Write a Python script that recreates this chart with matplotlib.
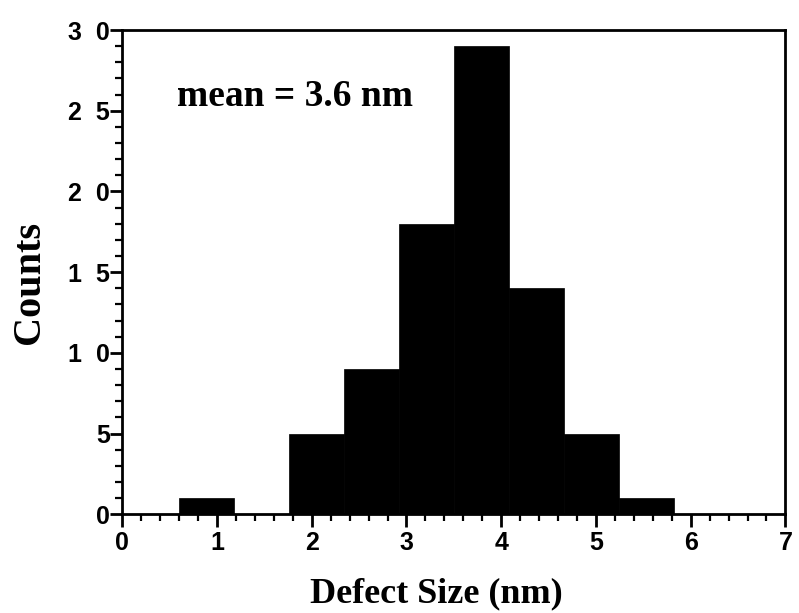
import numpy as np
import matplotlib
matplotlib.use('Agg')
import matplotlib.pyplot as plt
from matplotlib.ticker import MultipleLocator

# histogram data
bin_edges = [0.6, 1.18, 1.76, 2.34, 2.92, 3.5, 4.08, 4.66, 5.24, 5.82]
counts = [1, 0, 5, 9, 18, 29, 14, 5, 1]
yticks = [0, 5, 10, 15, 20, 25, 30]
ytick_labels = ['0', '5', '1  0', '1  5', '2  0', '2  5', '3  0']
xticks = [0, 1, 2, 3, 4, 5, 6, 7]

fig = plt.figure(figsize=(7.99, 6.13), dpi=100)
ax = fig.add_axes([0.153, 0.161, 0.830, 0.79])

edges = np.array(bin_edges)
ax.bar(edges[:-1], counts, width=np.diff(edges), align='edge',
       color='black', edgecolor='black', linewidth=0.5)

ax.set_xlim(0, 7)
ax.set_ylim(0, 30)
ax.set_xticks(xticks)
ax.set_xticklabels([str(t) for t in xticks], fontfamily='Liberation Sans',
                   fontweight='bold', fontsize=18)
ax.set_yticks(yticks)
ax.set_yticklabels(ytick_labels, fontfamily='Liberation Sans',
                   fontweight='bold', fontsize=18)
ax.xaxis.set_minor_locator(MultipleLocator(0.2))
ax.yaxis.set_minor_locator(MultipleLocator(1))
ax.tick_params(which='major', direction='out', length=9, width=2, pad=3)
ax.tick_params(which='minor', direction='out', length=5, width=1.6)
ax.tick_params(axis='y', which='both', pad=0)
for s in ax.spines.values():
    s.set_linewidth(2)

ax.set_xlabel('Defect Size (nm)', fontfamily='Liberation Serif',
              fontweight='bold', fontsize=26)
ax.xaxis.set_label_coords(0.474, -0.13)
ax.set_ylabel('Counts', fontfamily='Liberation Serif',
              fontweight='bold', fontsize=29)
ax.yaxis.set_label_coords(-0.112, 0.479)
ax.text(0.58, 25.3, 'mean = 3.6 nm', fontfamily='Liberation Serif',
        fontweight='bold', fontsize=27, va='baseline', ha='left')

fig.savefig('out.png', dpi=100)
